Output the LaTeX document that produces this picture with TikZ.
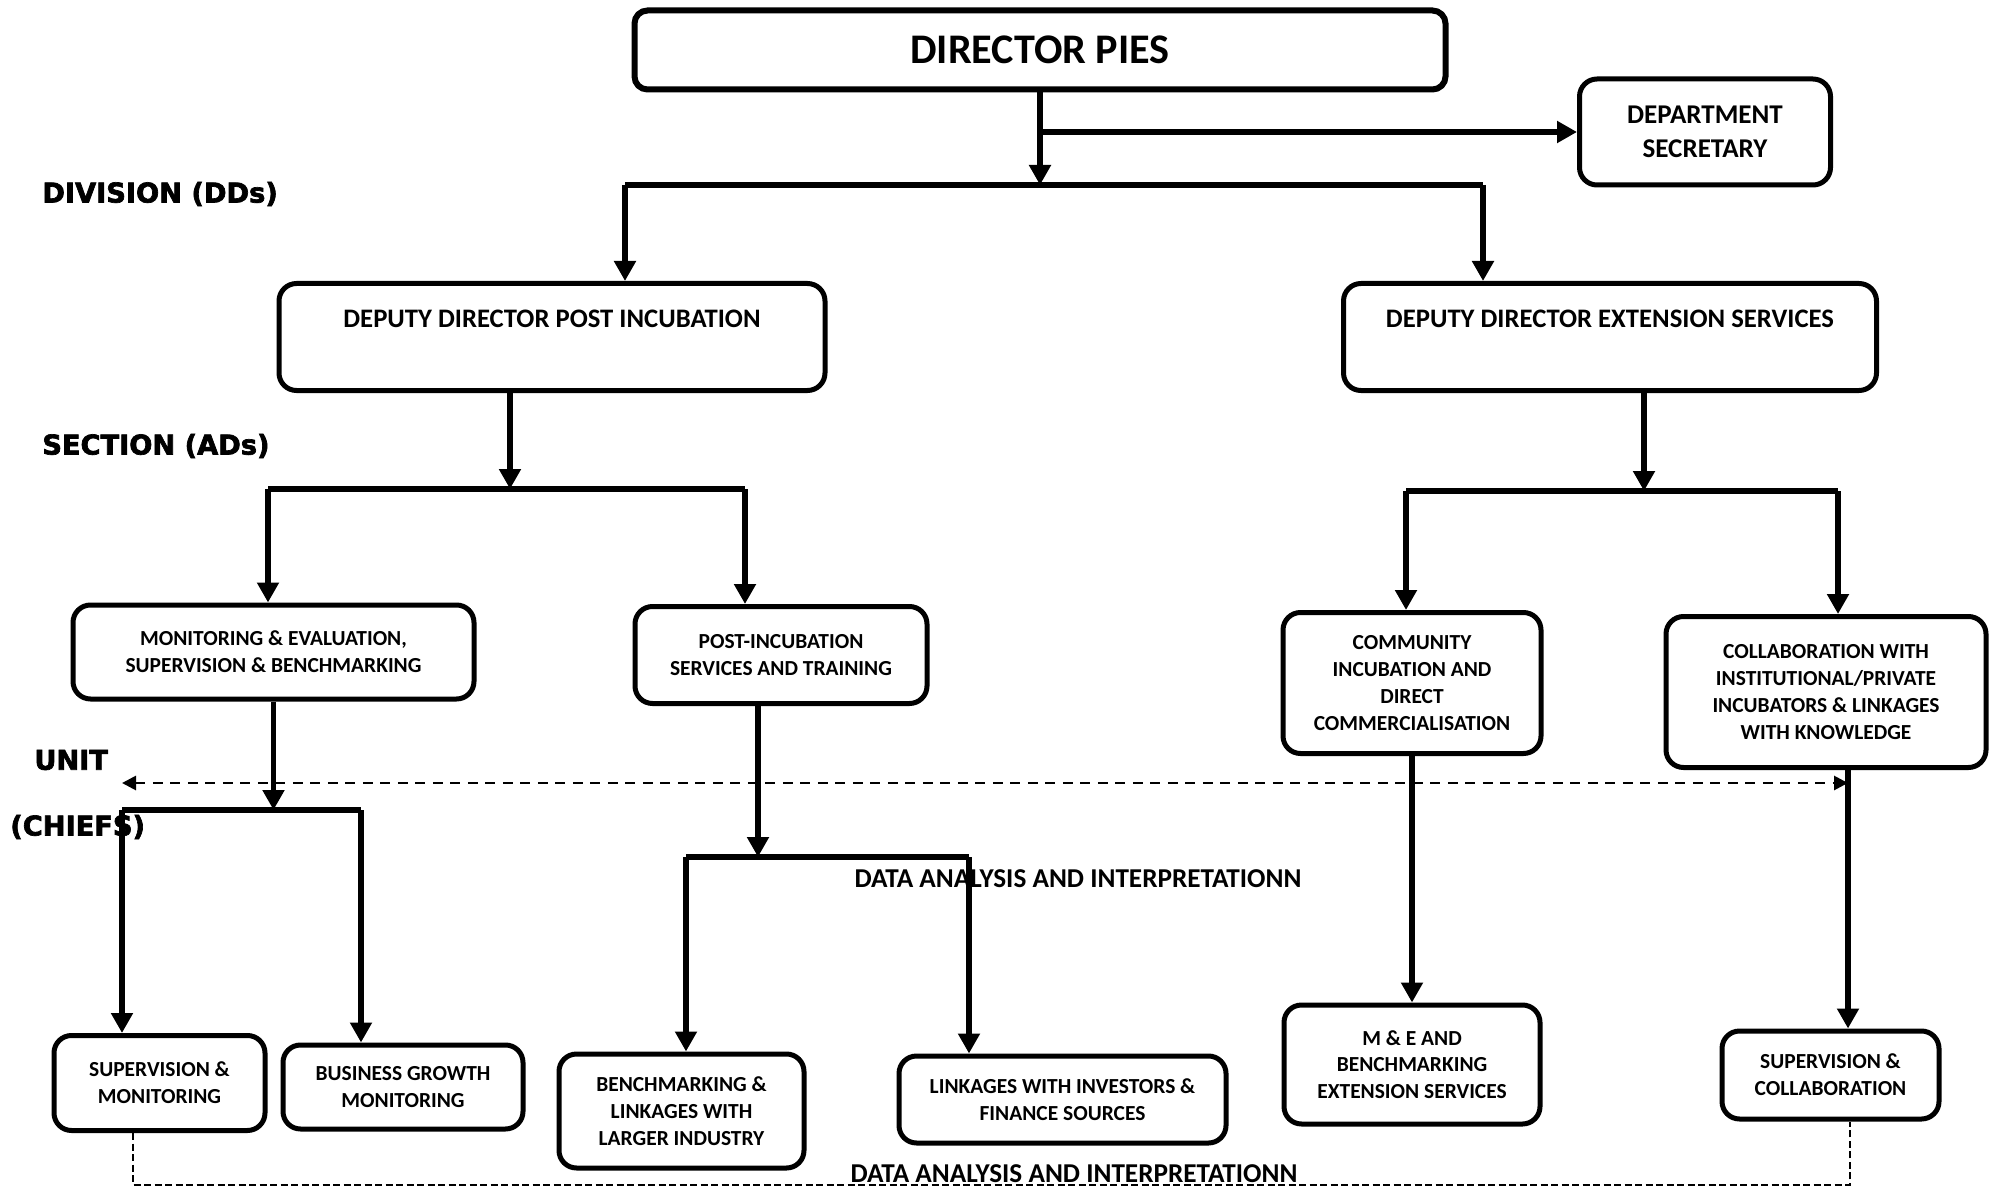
\documentclass[tikz,border=0pt]{standalone}
\usepackage{fontspec}
\setmainfont{Carlito}
\newfontfamily\levelfont[BoldFeatures={FakeBold=2.5}]{DejaVu Sans}
\usepackage{tikz}
\usetikzlibrary{arrows.meta}
\newcommand{\boxsize}{\fontsize{12.2}{15.2}\selectfont}
\newcommand{\ddsize}{\fontsize{15.2}{18}\selectfont}
\newcommand{\levelsize}{\fontsize{15.5}{18}\selectfont}
\tikzset{
    dims/.style 2 args={minimum width=#1*0.2mm, minimum height=#2*0.2mm},
    common/.style={draw, line width=1mm, rounded corners=3.5mm, align=center, inner sep=0pt},
    box/.style={common, font=\bfseries\boxsize},
    topbox/.style={common, line width=1.2mm, rounded corners=2.6mm, font=\bfseries\fontsize{24}{28}\selectfont},
    secbox/.style={common, font=\bfseries\fontsize{15.4}{19.5}\selectfont},
    ddbox/.style={common, font=\bfseries\ddsize, inner ysep=0pt, text height=8.8mm, text depth=12.6mm},
    level/.style={anchor=west, inner sep=0pt, font=\levelfont\bfseries\levelsize},
    datatext/.style={inner sep=1pt, font=\bfseries\fontsize{15.5}{18}\selectfont},
    conn/.style={line width=1.1mm},
    dashconn/.style={line width=0.55mm, dash pattern=on 2mm off 1.5mm, <->, >={Triangle[length=2.8mm,width=2.8mm]}},
    datadash/.style={line width=0.5mm, dash pattern=on 1.4mm off 0.7mm}
}

\begin{document}
\begin{tikzpicture}[x=0.2mm, y=-0.2mm, >={Triangle[length=4mm,width=4.2mm]}]
    \useasboundingbox (0,0) rectangle (2000,1191);

    % level names
    \node[level] (division) at (42,194) {DIVISION (DDs)};
    \node[level] (section) at (42,446) {SECTION (ADs)};
    \node[level] (unit) at (34,760) {UNIT};
    \node[level] (chiefs) at (10,827) {(CHIEFS)};

    % director and divisions
    \node[topbox, dims={811}{79}] (dir) at (1040,50) {DIRECTOR PIES};
    \node[secbox, dims={251}{106}] (sec) at (1705,132) {DEPARTMENT\\SECRETARY};
    \node[ddbox, dims={546}{107}] (ddpost) at (552,337) {DEPUTY DIRECTOR POST INCUBATION};
    \node[ddbox, dims={533}{107}] (ddext) at (1610,337) {DEPUTY DIRECTOR EXTENSION SERVICES};

    % sections
    \node[box, dims={401}{94}] (me) at (273.5,652) {MONITORING \& EVALUATION,\\SUPERVISION \& BENCHMARKING};
    \node[box, dims={292}{97}] (post) at (781,655) {POST-INCUBATION\\SERVICES AND TRAINING};
    \node[box, dims={258}{141}] (comm) at (1412,683) {COMMUNITY\\INCUBATION AND\\DIRECT\\COMMERCIALISATION};
    \node[box, dims={320}{151}] (collab) at (1826,692) {COLLABORATION WITH\\INSTITUTIONAL/PRIVATE\\INCUBATORS \& LINKAGES\\WITH KNOWLEDGE};

    % units
    \node[box, dims={211}{95}] (supmon) at (159.5,1083) {SUPERVISION \&\\MONITORING};
    \node[box, dims={240}{84}] (bgm) at (403,1087) {BUSINESS GROWTH\\MONITORING};
    \node[box, dims={245}{114}] (bench) at (681.5,1111) {BENCHMARKING \&\\LINKAGES WITH\\LARGER INDUSTRY};
    \node[box, dims={327}{87}] (link) at (1062.5,1099.5) {LINKAGES WITH INVESTORS \&\\FINANCE SOURCES};
    \node[box, dims={256}{119}] (mebench) at (1412,1064.5) {M \& E AND\\BENCHMARKING\\EXTENSION SERVICES};
    \node[box, dims={217}{88}] (supcol) at (1830.5,1075) {SUPERVISION \&\\COLLABORATION};

    \node[datatext] (data1) at (1078,879) {DATA ANALYSIS AND INTERPRETATIONN};

    % branch points
    \coordinate (divL) at (625,185);
    \coordinate (divR) at (1483,185);
    \coordinate (secA) at (510,489);
    \coordinate (secAL) at (268,489);
    \coordinate (secAR) at (745,489);
    \coordinate (secB) at (1644,491);
    \coordinate (secBL) at (1406,491);
    \coordinate (secBR) at (1838,491);
    \coordinate (meL) at (122,810);
    \coordinate (meR) at (361,810);
    \coordinate (postC) at (758,857);
    \coordinate (postL) at (686,857);
    \coordinate (postR) at (969,857);
    \coordinate (colX) at (1848,783);
    \coordinate (unitL) at (122,783);
    \coordinate (dataL) at (133,1185);
    \coordinate (dataR) at (1850,1185);

    \draw[conn, ->] (dir.south) -- (dir.south |- divL);
    \draw[conn, ->] (dir.south |- sec.west) -- (sec.west);
    \draw[conn] (divL) -- (divR);
    \draw[conn, ->] (divL) -- (divL |- ddpost.north);
    \draw[conn, ->] (divR) -- (divR |- ddext.north);

    \draw[conn, ->] (secA |- ddpost.south) -- (secA);
    \draw[conn] (secAL) -- (secAR);
    \draw[conn, ->] (secAL) -- (secAL |- me.north);
    \draw[conn, ->] (secAR) -- (secAR |- post.north);

    \draw[conn, ->] (secB |- ddext.south) -- (secB);
    \draw[conn] (secBL) -- (secBR);
    \draw[conn, ->] (secBL) -- (secBL |- comm.north);
    \draw[conn, ->] (secBR) -- (secBR |- collab.north);

    \draw[conn, ->] (me.south) -- (me.south |- meL);
    \draw[conn] (meL) -- (meR);
    \draw[conn, ->] (meL) -- (meL |- supmon.north);
    \draw[conn, ->] (meR) -- (meR |- bgm.north);

    \draw[conn, ->] (postC |- post.south) -- (postC);
    \draw[conn] (postL) -- (postR);
    \draw[conn, ->] (postL) -- (postL |- bench.north);
    \draw[conn, ->] (postR) -- (postR |- link.north);

    \draw[conn, ->] (comm.south) -- (mebench.north);
    \draw[conn, ->] (colX |- collab.south) -- (colX |- supcol.north);

    \draw[dashconn] (unitL) -- (colX);

    \draw[datadash] (dataL |- supmon.south) -- (dataL) -- (dataR) -- (dataR |- supcol.south);
    \node[datatext, fill=white, inner sep=0.5pt] (data2) at (1074,1174) {DATA ANALYSIS AND INTERPRETATIONN};
\end{tikzpicture}
\end{document}
